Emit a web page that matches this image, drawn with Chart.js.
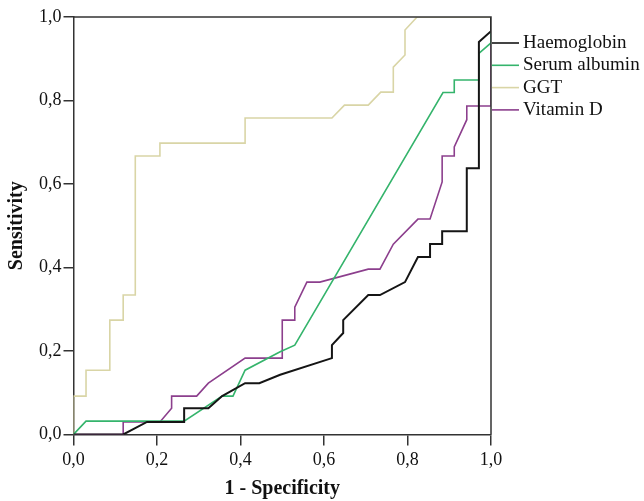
<!DOCTYPE html>
<html>
<head>
<meta charset="utf-8">
<script src="https://cdn.jsdelivr.net/npm/chart.js@4.4.1/dist/chart.umd.min.js"></script>
<style>
html,body{margin:0;padding:0;background:#fff;}
#wrap{width:644px;height:501px;position:relative;}
</style>
</head>
<body>
<div id="wrap"><canvas id="c" width="644" height="501"></canvas></div>
<script>
// ---- data ----
const seriesNames = ["Haemoglobin", "Serum albumin", "GGT", "Vitamin D"];
const tickValues = [0, 0.2, 0.4, 0.6, 0.8, 1.0];

const hbX = [0, 0.119, 0.176, 0.265, 0.265, 0.323, 0.356, 0.411, 0.445, 0.495, 0.619, 0.619, 0.646, 0.646, 0.706, 0.734, 0.794, 0.825, 0.854, 0.854, 0.883, 0.883, 0.942, 0.942, 0.971, 0.971, 1.0, 1.0];
const hbY = [0, 0, 0.030, 0.030, 0.063, 0.063, 0.092, 0.123, 0.123, 0.143, 0.183, 0.214, 0.243, 0.274, 0.334, 0.334, 0.365, 0.425, 0.425, 0.456, 0.456, 0.487, 0.487, 0.638, 0.638, 0.940, 0.966, 1.0];

const saX = [0, 0.030, 0.265, 0.356, 0.382, 0.411, 0.495, 0.530, 0.885, 0.912, 0.912, 0.971, 0.971, 1.0, 1.0];
const saY = [0, 0.032, 0.032, 0.092, 0.092, 0.154, 0.198, 0.214, 0.819, 0.819, 0.849, 0.849, 0.913, 0.938, 1.0];

const ggtX = [0, 0, 0.030, 0.030, 0.087, 0.087, 0.119, 0.119, 0.148, 0.148, 0.207, 0.207, 0.411, 0.411, 0.619, 0.649, 0.706, 0.736, 0.766, 0.766, 0.794, 0.794, 0.823, 1.0];
const ggtY = [0, 0.092, 0.092, 0.154, 0.154, 0.274, 0.274, 0.334, 0.334, 0.667, 0.667, 0.698, 0.698, 0.758, 0.758, 0.789, 0.789, 0.820, 0.820, 0.880, 0.909, 0.969, 1.0, 1.0];

const vdX = [0, 0.119, 0.119, 0.207, 0.235, 0.235, 0.295, 0.323, 0.411, 0.500, 0.500, 0.530, 0.530, 0.559, 0.590, 0.706, 0.734, 0.766, 0.825, 0.854, 0.883, 0.883, 0.912, 0.912, 0.942, 0.942, 1.0, 1.0];
const vdY = [0, 0, 0.030, 0.030, 0.063, 0.092, 0.092, 0.123, 0.183, 0.183, 0.274, 0.274, 0.305, 0.365, 0.365, 0.396, 0.396, 0.456, 0.516, 0.516, 0.605, 0.667, 0.667, 0.689, 0.754, 0.787, 0.787, 1.0];

const colors = ["#151515", "#35b46c", "#d9d5a6", "#8c3f8d"];
const widths = [2, 1.6, 1.6, 1.6];

function pts(xs, ys){ return xs.map((x,i)=>({x:x, y:ys[i]})); }
const allX = [hbX, saX, ggtX, vdX];
const allY = [hbY, saY, ggtY, vdY];

const fmt = v => Number(v).toFixed(1).replace('.', ',');
const SERIF = "'Liberation Serif', 'DejaVu Serif', serif";

const framePlugin = {
  id: 'frameLegend',
  afterDatasetsDraw(chart){
    const {ctx, chartArea:a} = chart;
    ctx.save();
    ctx.strokeStyle = '#333';
    ctx.lineWidth = 1.5;
    ctx.beginPath();
    ctx.moveTo(a.left, a.top);
    ctx.lineTo(a.right, a.top);
    ctx.lineTo(a.right, a.bottom);
    ctx.stroke();
    // legend
    ctx.font = "19px " + SERIF;
    ctx.textBaseline = 'middle';
    ctx.fillStyle = '#111';
    chart.data.datasets.forEach((ds, i) => {
      const y = 43 + i * 22.3;
      ctx.strokeStyle = ds.borderColor;
      ctx.lineWidth = 1.6;
      ctx.beginPath();
      ctx.moveTo(a.right + 1, y);
      ctx.lineTo(a.right + 28, y);
      ctx.stroke();
      ctx.fillText(ds.label, a.right + 32, y);
    });
    ctx.restore();
  }
};

new Chart(document.getElementById('c'), {
  type: 'scatter',
  data: {
    datasets: seriesNames.map((n, i) => ({
      label: n,
      data: pts(allX[i], allY[i]),
      showLine: true,
      borderColor: colors[i],
      backgroundColor: colors[i],
      borderWidth: widths[i],
      pointRadius: 0,
      tension: 0,
      fill: false
    }))
  },
  options: {
    responsive: false,
    animation: false,
    layout: { padding: { left: 0, top: 17, right: 153, bottom: 0 } },
    plugins: { legend: { display: false }, tooltip: { enabled: false } },
    scales: {
      x: {
        type: 'linear', min: 0, max: 1,
        afterBuildTicks: s => { s.ticks = tickValues.map(v => ({value: v})); },
        afterFit: s => { s.height = 66.5; },
        ticks: { callback: fmt, color: '#111', font: { family: SERIF, size: 18 }, padding: 4, maxRotation: 0 },
        grid: { drawOnChartArea: false, drawTicks: true, tickLength: 11, color: '#333', lineWidth: 1.5 },
        border: { display: true, color: '#333', width: 1.5 },
        title: { display: true, text: '1 - Specificity', color: '#111', font: { family: SERIF, size: 20, weight: 'bold' }, padding: { top: 0, bottom: 0 } }
      },
      y: {
        type: 'linear', min: 0, max: 1,
        afterBuildTicks: s => { s.ticks = tickValues.map(v => ({value: v})); },
        afterFit: s => { s.width = 73.5; },
        ticks: { callback: fmt, color: '#111', font: { family: SERIF, size: 18 }, padding: 2 },
        grid: { drawOnChartArea: false, drawTicks: true, tickLength: 10, color: '#333', lineWidth: 1.5 },
        border: { display: true, color: '#333', width: 1.5 },
        title: { display: true, text: 'Sensitivity', color: '#111', font: { family: SERIF, size: 20, weight: 'bold' }, padding: { top: 5, bottom: 0 } }
      }
    }
  },
  plugins: [framePlugin]
});
</script>
</body>
</html>
